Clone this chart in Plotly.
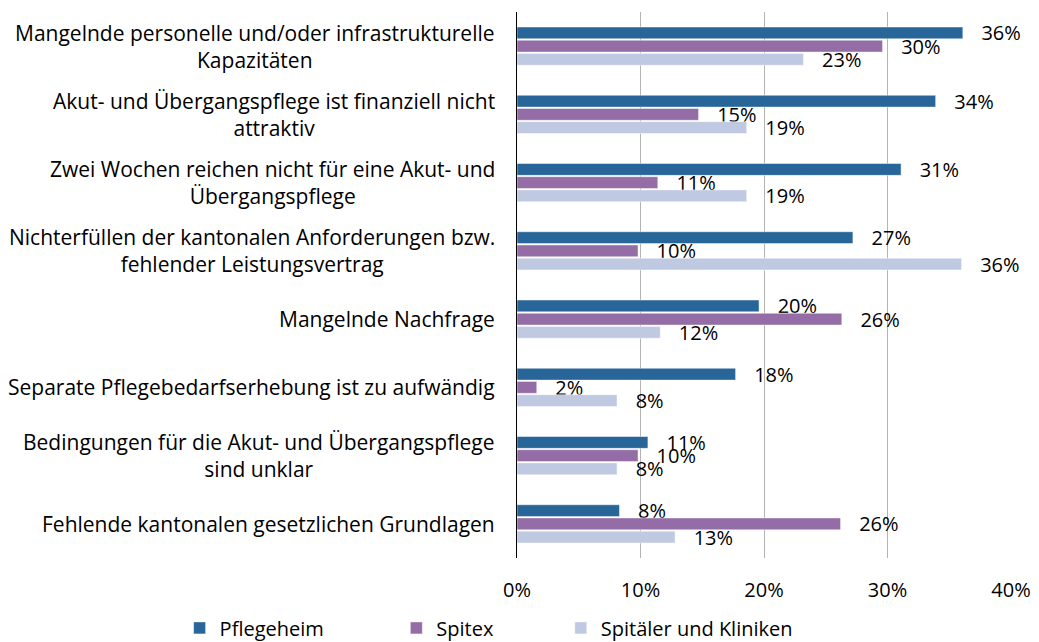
import plotly.graph_objects as go

categories = [
    "Mangelnde personelle und/oder infrastrukturelle<br>Kapazitäten",
    "Akut- und Übergangspflege ist finanziell nicht<br>attraktiv",
    "Zwei Wochen reichen nicht für eine Akut- und<br>Übergangspflege",
    "Nichterfüllen der kantonalen Anforderungen bzw.<br>fehlender Leistungsvertrag",
    "Mangelnde Nachfrage",
    "Separate Pflegebedarfserhebung ist zu aufwändig",
    "Bedingungen für die Akut- und Übergangspflege<br>sind unklar",
    "Fehlende kantonalen gesetzlichen Grundlagen",
]
pflegeheim = [36.1, 33.9, 31.1, 27.2, 19.6, 17.7, 10.6, 8.3]
spitex = [29.6, 14.7, 11.4, 9.8, 26.3, 1.6, 9.8, 26.2]
spitaeler = [23.2, 18.6, 18.6, 36.0, 11.6, 8.1, 8.1, 12.8]
series_names = ["Pflegeheim", "Spitex", "Spitäler und Kliniken"]
colors = ["#286699", "#946CA6", "#BFC9E2"]
x_tickvals = [0, 10, 20, 30, 40]
x_ticktext = ["0%", "10%", "20%", "30%", "40%"]

FONT = "Open Sans"
FS = 20
NB = "\u00a0"

fig = go.Figure()
for name, vals, col, pad in zip(series_names, [pflegeheim, spitex, spitaeler], colors, [13, 12, 0]):
    fig.add_trace(go.Bar(
        y=categories, x=vals, name=name + NB * pad, orientation="h",
        marker=dict(color=col, line=dict(color="rgba(255,255,255,0.6)", width=0.8)),
        texttemplate=NB * 3 + "%{x:.0f}%", textposition="outside",
        textfont=dict(family=FONT, size=FS, color="#000"),
        cliponaxis=False, constraintext="none",
    ))

for c in categories:
    fig.add_annotation(
        x=0, xref="paper", y=c, yref="y", text=c, showarrow=False,
        xanchor="right", align="center", xshift=-20,
        font=dict(family=FONT, size=21, color="#000"),
    )

fig.update_layout(
    width=1039, height=642,
    margin=dict(l=517, r=28, t=12, b=84, autoexpand=False),
    barmode="group", bargap=0.42, bargroupgap=0.1,
    plot_bgcolor="white", paper_bgcolor="white",
    font=dict(family=FONT, size=FS, color="#000"),
    showlegend=True,
    legend=dict(orientation="h", x=-0.683, xanchor="left", y=-0.128, yanchor="middle",
                font=dict(family=FONT, size=FS, color="#000"), traceorder="normal",
                itemwidth=30),
)
fig.update_xaxes(
    range=[0, 40], tickvals=x_tickvals, ticktext=x_ticktext, showgrid=True,
    gridcolor="#B3B3B3", gridwidth=1, zeroline=False, showline=False,
    ticklabelstandoff=18, tickfont=dict(family=FONT, size=FS), automargin=False,
)
fig.update_yaxes(
    autorange="reversed", showticklabels=False, showline=True,
    linecolor="#000", linewidth=1.2, showgrid=False, zeroline=False,
)
fig.write_html("out.html", config={"displayModeBar": False},
               post_script="document.body.style.margin='0';")
